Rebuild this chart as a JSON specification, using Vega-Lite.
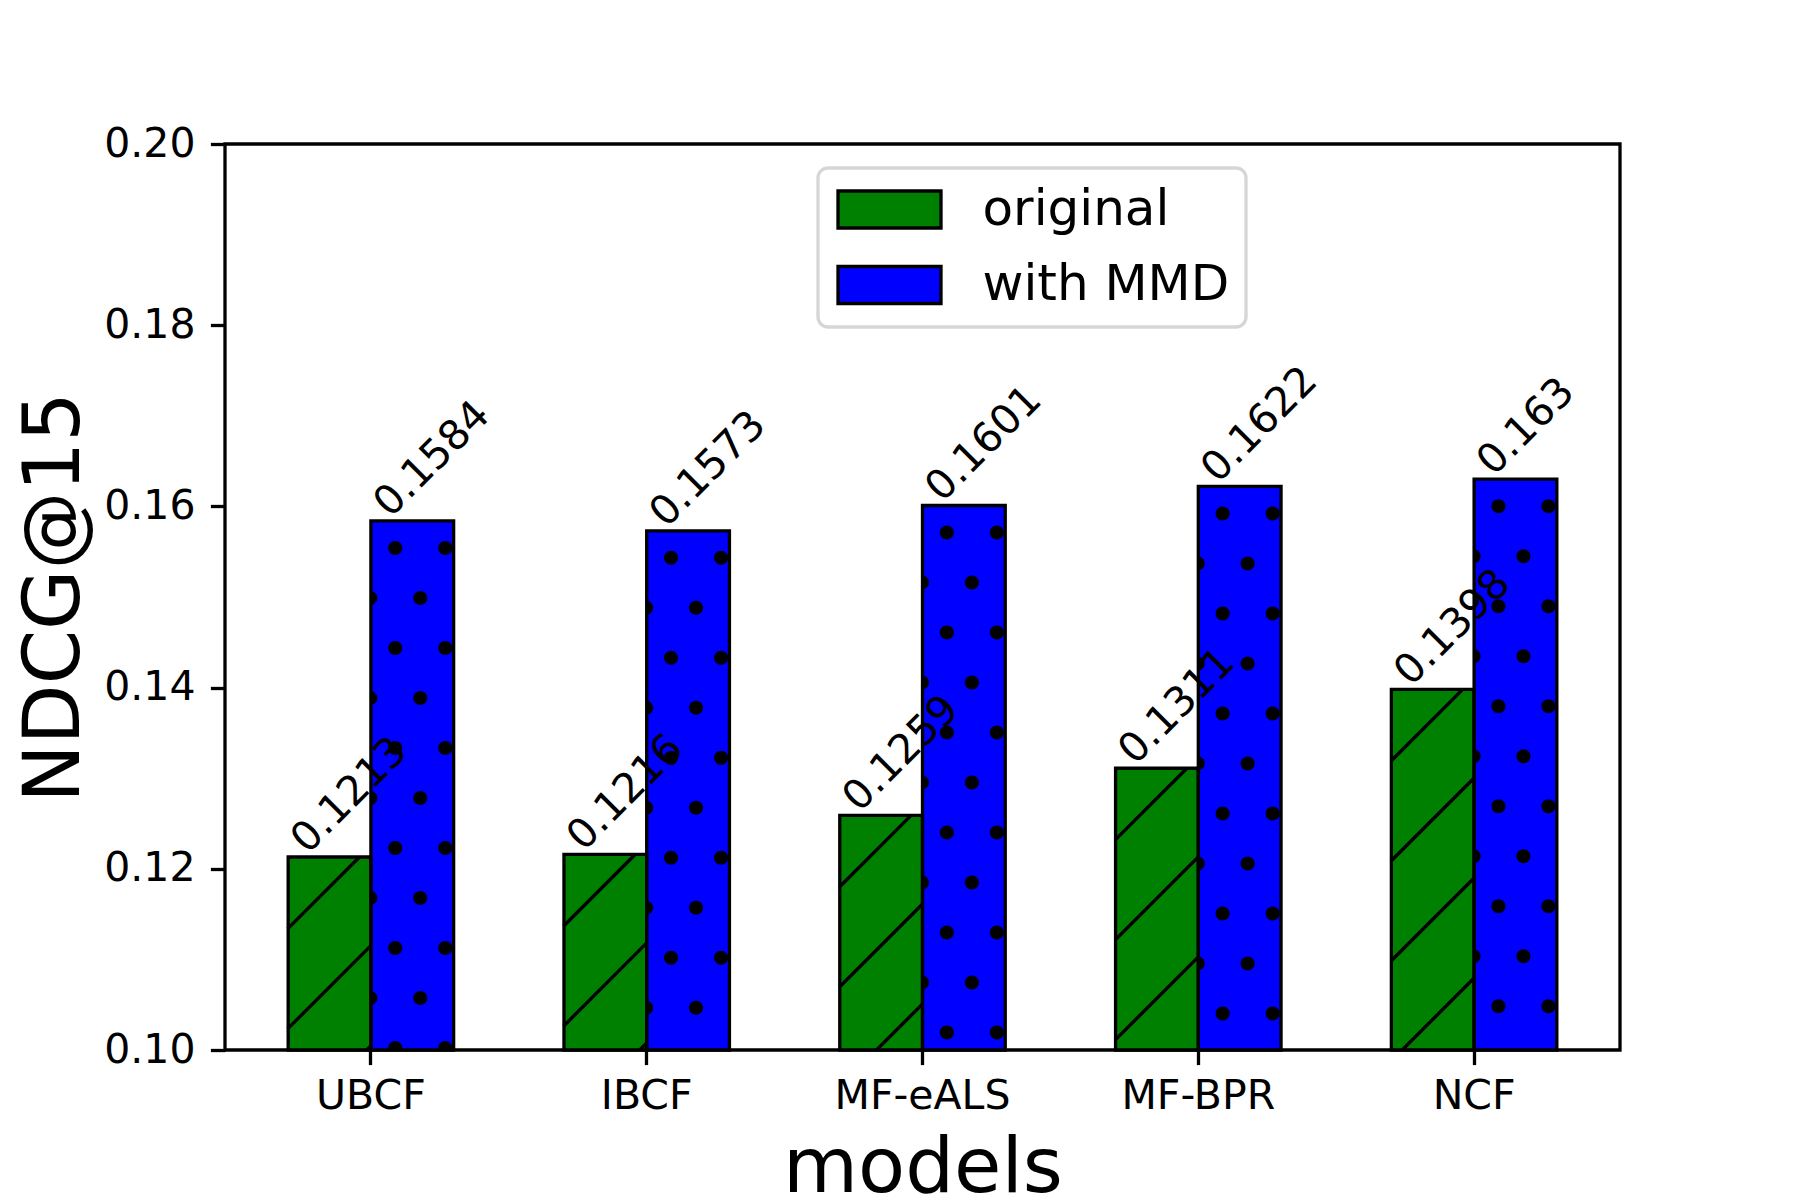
{
  "$schema": "https://vega.github.io/schema/vega-lite/v6.json",
  "width": 1395,
  "height": 906,
  "autosize": "none",
  "padding": {"left": 225, "top": 144, "right": 180, "bottom": 150},
  "background": "white",
  "config": {
    "font": "DejaVu Sans",
    "view": {"stroke": "black", "strokeWidth": 3.3},
    "axis": {"grid": false, "labelColor": "black", "titleColor": "black", "tickColor": "black", "domain": false, "titleFontWeight": "normal", "labelFont": "DejaVu Sans", "titleFont": "DejaVu Sans"}
  },
  "data": {
    "values": [
      {"model": "UBCF", "series": "original", "value": 0.1213},
      {"model": "IBCF", "series": "original", "value": 0.1216},
      {"model": "MF-eALS", "series": "original", "value": 0.1259},
      {"model": "MF-BPR", "series": "original", "value": 0.1311},
      {"model": "NCF", "series": "original", "value": 0.1398},
      {"model": "UBCF", "series": "with MMD", "value": 0.1584},
      {"model": "IBCF", "series": "with MMD", "value": 0.1573},
      {"model": "MF-eALS", "series": "with MMD", "value": 0.1601},
      {"model": "MF-BPR", "series": "with MMD", "value": 0.1622},
      {"model": "NCF", "series": "with MMD", "value": 0.163}
    ]
  },
  "encoding": {
    "x": {
      "field": "model", "type": "nominal",
      "sort": ["UBCF", "IBCF", "MF-eALS", "MF-BPR", "NCF"],
      "scale": {"paddingInner": 0.4, "paddingOuter": 0.229},
      "axis": {"labelAngle": 0, "labelFontSize": 41, "labelBaseline": "alphabetic", "labelPadding": 44, "tickSize": 14.6, "tickWidth": 3.3, "titleFontSize": 77, "titleX": 697.5, "titleY": 141, "titleBaseline": "alphabetic", "titleAlign": "center"},
      "title": "models"
    },
    "xOffset": {"field": "series", "type": "nominal", "sort": ["original", "with MMD"], "scale": {"paddingInner": 0, "paddingOuter": 0}},
    "y": {
      "field": "value", "type": "quantitative", "stack": null,
      "scale": {"domain": [0.1, 0.2], "zero": false, "nice": false},
      "axis": {"values": [0.1, 0.12, 0.14, 0.16, 0.18, 0.2], "format": ".2f", "labelFontSize": 41, "labelPadding": 15.4, "tickSize": 14.6, "tickWidth": 3.3, "labelBaseline": "middle", "titleFontSize": 78, "titleAngle": -90, "titleX": -147, "titleY": 453, "titleBaseline": "alphabetic", "titleAlign": "center"},
      "title": "NDCG@15"
    }
  },
  "layer": [
    {
      "mark": {"type": "bar", "opacity": 1, "strokeWidth": 0},
      "encoding": {
        "y2": {"datum": 0.1},
        "fill": {
          "field": "series", "type": "nominal",
          "scale": {"domain": ["original", "with MMD"], "range": ["#008000", "#0000ff"]},
          "legend": {
            "title": null, "orient": "none", "legendX": 593, "legendY": 24, "direction": "vertical",
            "symbolType": "M-51.5 -18.5H51.5V18.5H-51.5Z", "symbolSize": 4, "symbolOffset": 30,
            "symbolStrokeColor": "black", "symbolStrokeWidth": 3.3, "symbolOpacity": 1,
            "labelFontSize": 50, "labelColor": "black", "labelOffset": 68, "labelFont": "DejaVu Sans", "labelLimit": 0,
            "rowPadding": 23.5, "padding": 16.5, "fillColor": "white", "strokeColor": "#d6d6d6", "cornerRadius": 10,
            "encode": {
              "symbols": {"update": {"stroke": {"value": "black"}, "strokeWidth": {"value": 3.3}, "opacity": {"value": 1}}},
              "legend": {"update": {"strokeWidth": {"value": 3.3}}}
            }
          }
        }
      }
    },
    {
      "transform": [{"filter": "datum.series === 'original'"}],
      "mark": {"type": "point", "filled": false, "opacity": 1, "stroke": "black", "strokeWidth": 3.4, "size": 4, "clip": true,
        "shape": "M-41.9 71.9L30 0M-41.9 171.9L41.9 88.1M-41.9 271.9L41.9 188.1M-41.9 371.9L41.9 288.1M-41.9 471.9L41.9 388.1M-41.9 571.9L41.9 488.1M-41.9 671.9L41.9 588.1"}
    },
    {
      "transform": [{"filter": "datum.series === 'with MMD'"}],
      "mark": {"type": "point", "filled": true, "opacity": 1, "fill": "black", "strokeWidth": 0, "size": 4, "clip": true,
        "shape": "M-24 27a7 7 0 1 0 14 0a7 7 0 1 0 -14 0ZM26 27a7 7 0 1 0 14 0a7 7 0 1 0 -14 0ZM1 77a7 7 0 1 0 14 0a7 7 0 1 0 -14 0ZM-41.9 70a7 7 0 0 1 0 14ZM-24 127a7 7 0 1 0 14 0a7 7 0 1 0 -14 0ZM26 127a7 7 0 1 0 14 0a7 7 0 1 0 -14 0ZM1 177a7 7 0 1 0 14 0a7 7 0 1 0 -14 0ZM-41.9 170a7 7 0 0 1 0 14ZM-24 227a7 7 0 1 0 14 0a7 7 0 1 0 -14 0ZM26 227a7 7 0 1 0 14 0a7 7 0 1 0 -14 0ZM1 277a7 7 0 1 0 14 0a7 7 0 1 0 -14 0ZM-41.9 270a7 7 0 0 1 0 14ZM-24 327a7 7 0 1 0 14 0a7 7 0 1 0 -14 0ZM26 327a7 7 0 1 0 14 0a7 7 0 1 0 -14 0ZM1 377a7 7 0 1 0 14 0a7 7 0 1 0 -14 0ZM-41.9 370a7 7 0 0 1 0 14ZM-24 427a7 7 0 1 0 14 0a7 7 0 1 0 -14 0ZM26 427a7 7 0 1 0 14 0a7 7 0 1 0 -14 0ZM1 477a7 7 0 1 0 14 0a7 7 0 1 0 -14 0ZM-41.9 470a7 7 0 0 1 0 14ZM-24 527a7 7 0 1 0 14 0a7 7 0 1 0 -14 0ZM26 527a7 7 0 1 0 14 0a7 7 0 1 0 -14 0ZM1 577a7 7 0 1 0 14 0a7 7 0 1 0 -14 0ZM-41.9 570a7 7 0 0 1 0 14Z"}
    },
    {
      "mark": {"type": "bar", "filled": false, "color": "black", "opacity": 1, "strokeWidth": 3.3},
      "encoding": {"y2": {"datum": 0.1}}
    },
    {
      "mark": {"type": "text", "angle": -45, "align": "left", "baseline": "alphabetic", "dx": -14, "dy": -17, "fontSize": 41, "color": "black", "font": "DejaVu Sans"},
      "encoding": {"text": {"field": "value", "type": "quantitative", "format": "~g"}}
    }
  ]
}
